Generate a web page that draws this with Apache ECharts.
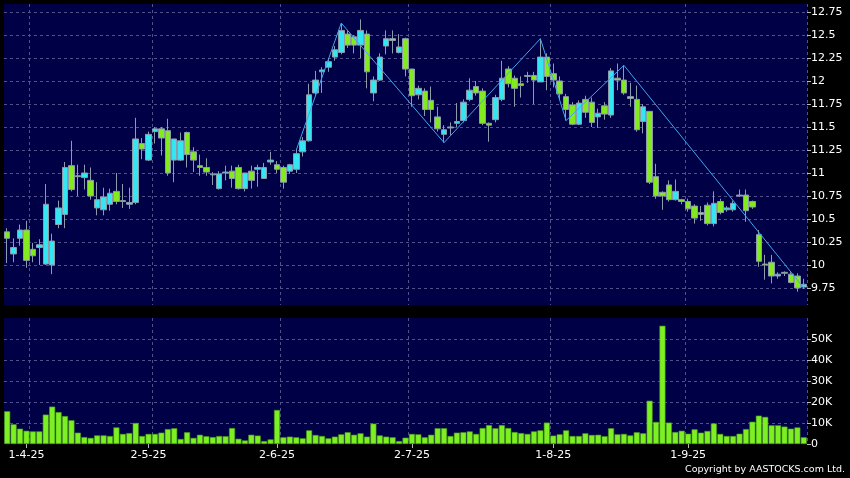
<!DOCTYPE html>
<html>
<head>
<meta charset="utf-8">
<script src="https://cdn.jsdelivr.net/npm/echarts@6/dist/echarts.min.js"></script>
<style>
html, body { margin: 0; padding: 0; background: #000; }
#chart { width: 850px; height: 478px; }
</style>
</head>
<body>
<div id="chart"></div>
<script>
// trading days, d-m-yy
var dates = [
  '27-3-25','28-3-25','31-3-25',
  '1-4-25','2-4-25','3-4-25','7-4-25','8-4-25','9-4-25','10-4-25','11-4-25','14-4-25','15-4-25','16-4-25','17-4-25',
  '22-4-25','23-4-25','24-4-25','25-4-25','28-4-25','29-4-25','30-4-25',
  '2-5-25','6-5-25','7-5-25','8-5-25','9-5-25','12-5-25','13-5-25','14-5-25','15-5-25','16-5-25','19-5-25','20-5-25',
  '21-5-25','22-5-25','23-5-25','26-5-25','27-5-25','28-5-25','29-5-25','30-5-25',
  '2-6-25','3-6-25','4-6-25','5-6-25','6-6-25','9-6-25','10-6-25','11-6-25','12-6-25','13-6-25','16-6-25','17-6-25',
  '18-6-25','19-6-25','20-6-25','23-6-25','24-6-25','25-6-25','26-6-25','27-6-25','30-6-25',
  '2-7-25','3-7-25','4-7-25','7-7-25','8-7-25','9-7-25','10-7-25','11-7-25','14-7-25','15-7-25','16-7-25','17-7-25',
  '18-7-25','21-7-25','22-7-25','23-7-25','24-7-25','25-7-25','28-7-25','29-7-25','30-7-25','31-7-25',
  '1-8-25','4-8-25','5-8-25','6-8-25','7-8-25','8-8-25','11-8-25','12-8-25','13-8-25','14-8-25','15-8-25','18-8-25',
  '19-8-25','20-8-25','21-8-25','22-8-25','25-8-25','26-8-25','27-8-25','28-8-25','29-8-25',
  '1-9-25','2-9-25','3-9-25','4-9-25','5-9-25','8-9-25','9-9-25','10-9-25','11-9-25','12-9-25','15-9-25','16-9-25',
  '17-9-25','18-9-25','19-9-25','22-9-25','23-9-25','24-9-25','25-9-25'
];

var opens = [
  10.36,10.12,10.29,10.38,10.17,10.19,10.01,10.00,10.44,10.55,11.08,10.97,10.95,10.92,10.62,10.60,10.66,10.80,10.70,10.66,
  10.68,11.32,11.14,11.45,11.48,11.46,11.14,11.14,11.44,11.23,11.08,11.06,10.98,10.83,11.00,11.02,11.06,10.83,11.02,11.04,
  10.94,11.12,11.09,11.06,11.02,11.04,11.23,11.35,11.87,12.10,12.15,12.26,12.31,12.51,12.48,12.39,12.51,11.87,12.01,12.38,
  12.46,12.31,12.46,12.13,11.85,11.89,11.79,11.61,11.42,11.50,11.54,11.57,11.80,11.94,11.89,11.54,11.58,11.80,12.13,12.03,
  11.97,12.06,12.06,11.99,12.26,12.08,12.00,11.83,11.74,11.53,11.80,11.77,11.61,11.73,11.63,12.03,12.01,11.83,11.80,11.56,
  11.67,10.96,10.79,10.87,10.71,10.71,10.69,10.64,10.57,10.65,10.45,10.69,10.60,10.60,10.76,10.76,10.69,10.33,10.01,10.03,
  9.88,9.92,9.90,9.88,9.76
];
var closes = [
  10.29,10.19,10.38,10.05,10.10,10.22,10.66,10.26,10.62,11.06,10.82,10.96,11.00,10.75,10.71,10.74,10.78,10.69,10.69,10.68,
  11.37,11.26,11.42,11.48,11.38,11.00,11.37,11.35,11.20,11.14,11.06,11.01,10.99,10.99,11.01,10.94,10.83,11.00,10.92,11.06,
  11.06,11.14,11.04,10.90,11.09,11.21,11.35,11.85,12.01,12.12,12.21,12.34,12.55,12.39,12.39,12.55,12.10,12.01,12.26,12.46,
  12.44,12.37,12.13,11.84,11.92,11.69,11.69,11.48,11.47,11.49,11.56,11.77,11.90,11.87,11.54,11.52,11.82,12.03,11.97,11.92,
  11.95,12.05,12.01,12.26,12.05,12.01,11.86,11.69,11.53,11.76,11.66,11.55,11.65,11.64,12.11,12.01,11.87,11.81,11.47,11.72,
  10.90,10.75,10.75,10.71,10.80,10.69,10.61,10.51,10.55,10.45,10.67,10.57,10.62,10.67,10.75,10.59,10.63,10.04,10.00,9.88,
  9.90,9.91,9.81,9.75,9.79
];
var lows = [
  10.02,10.03,10.21,9.97,10.03,10.00,10.00,9.90,10.40,10.40,10.80,10.75,10.82,10.71,10.54,10.54,10.59,10.66,10.62,10.61,
  10.66,11.15,11.13,11.32,11.19,10.97,10.90,11.13,11.06,11.01,10.97,10.97,10.87,10.82,10.92,10.84,10.82,10.80,10.83,10.85,
  10.94,11.09,11.00,10.83,10.99,11.00,11.18,11.34,11.85,11.87,12.10,12.22,12.29,12.36,12.30,12.25,11.92,11.78,12.00,12.29,
  12.30,12.30,12.05,11.72,11.80,11.62,11.55,11.45,11.33,11.41,11.50,11.55,11.78,11.84,11.52,11.34,11.55,11.78,11.93,11.72,
  11.82,11.98,11.75,11.99,11.90,11.93,11.80,11.57,11.52,11.52,11.60,11.50,11.49,11.58,11.60,11.90,11.85,11.72,11.45,11.43,
  10.88,10.72,10.60,10.69,10.70,10.66,10.58,10.45,10.48,10.43,10.42,10.55,10.58,10.58,10.74,10.47,10.61,9.98,9.84,9.80,
  9.85,9.88,9.80,9.71,9.74
];
var highs = [
  10.40,10.29,10.44,10.48,10.24,10.28,10.88,10.34,10.70,11.12,11.35,11.09,11.09,11.06,10.90,10.84,10.83,11.00,10.88,10.84,
  11.60,11.38,11.45,11.50,11.50,11.59,11.37,11.44,11.45,11.28,11.20,11.16,11.01,11.02,11.08,11.08,11.09,11.00,11.08,11.09,
  11.11,11.23,11.13,11.08,11.10,11.26,11.39,11.97,12.11,12.15,12.25,12.38,12.63,12.55,12.50,12.67,12.55,12.05,12.30,12.55,
  12.55,12.51,12.47,12.13,11.95,11.92,11.94,11.72,11.52,11.55,11.76,11.80,12.03,12.00,11.92,11.55,11.85,12.22,12.16,12.06,
  12.05,12.10,12.10,12.46,12.30,12.19,12.05,11.86,11.77,11.79,11.84,11.82,11.70,11.77,12.14,12.19,12.17,11.98,11.95,11.75,
  11.67,11.10,10.80,10.92,10.93,10.72,10.72,10.66,10.64,10.68,10.80,10.72,10.64,10.70,10.82,10.82,10.70,10.38,10.11,10.11,
  9.92,9.93,9.92,9.91,9.85
];
// volume in thousands of shares
var volumes = [
  15.6,9.4,7.3,6.3,6.0,6.0,14.0,17.8,15.2,13.3,11.3,5.4,3.3,2.9,4.1,4.1,3.8,7.9,4.8,5.2,
  10.0,3.8,4.8,4.8,5.4,7.1,7.5,2.4,5.6,2.9,4.4,3.7,3.3,3.8,3.7,7.6,2.5,1.7,4.4,4.0,
  1.4,2.2,16.2,3.2,3.5,3.2,2.7,6.5,4.3,3.8,2.7,3.5,4.6,5.6,4.4,5.1,3.5,9.7,4.1,3.5,
  3.2,1.4,3.0,4.8,4.6,3.2,4.4,7.5,7.5,3.8,5.4,5.6,6.0,4.8,7.6,9.0,7.5,9.0,7.6,5.7,
  5.2,4.8,6.0,6.5,10.2,4.0,4.6,6.5,3.8,3.8,5.1,4.3,4.4,3.7,7.5,4.6,4.8,4.1,5.6,5.1,
  20.6,10.5,56.3,10.2,5.7,6.3,4.9,7.0,5.4,6.2,9.8,4.8,3.8,3.8,4.9,7.1,10.6,13.5,12.9,8.9,
  8.9,8.3,7.3,7.9,3.2
];
// trend line turning points
var zigIdx = [45, 52, 68, 83, 87, 96, 124];
var zigVal = [11.25, 12.63, 11.33, 12.46, 11.57, 12.17, 9.75];

var monthLabels = ['1-4-25','2-5-25','2-6-25','2-7-25','1-8-25','1-9-25'];
var gridLineIdx = [4, 23, 43, 63, 85, 106];
var priceTicks = [9.75,10,10.25,10.5,10.75,11,11.25,11.5,11.75,12,12.25,12.5,12.75];
var volMax = 60000, volStep = 10000;

var candleData = dates.map(function (d, i) {
    return [opens[i], closes[i], lows[i], highs[i]];
});
var zigData = dates.map(function () { return null; });
zigIdx.forEach(function (k, j) { zigData[k] = zigVal[j]; });
var volData = volumes.map(function (v) { return Math.round(v * 1000); });

function isLabel(idx) { return monthLabels.indexOf(dates[idx]) >= 0; }
function isGridLine(idx) { return gridLineIdx.indexOf(idx) >= 0; }

var gridLine = { color: '#50508a', type: [3, 3], width: 1 };
var font = 'DejaVu Sans';

var myChart = echarts.init(document.getElementById('chart'));
var option = {
    backgroundColor: '#000000',
    animation: false,
    grid: [
        { left: 4, right: 43, top: 4, height: 301, show: true, backgroundColor: '#000046', borderWidth: 0 },
        { left: 4, right: 43, top: 318, height: 126, show: true, backgroundColor: '#000046', borderWidth: 0 }
    ],
    xAxis: [
        {
            type: 'category', gridIndex: 0, data: dates, boundaryGap: true,
            axisLine: { show: false }, axisTick: { show: false }, axisLabel: { show: false },
            splitLine: { show: true, interval: function (i) { return isGridLine(i); }, lineStyle: gridLine }
        },
        {
            type: 'category', gridIndex: 1, data: dates, boundaryGap: true, offset: 2,
            axisLine: { show: false },
            axisTick: { show: true, alignWithLabel: true, length: 4, interval: function (i) { return isLabel(i); },
                lineStyle: { color: '#bbbbbb' } },
            axisLabel: { interval: function (i) { return isLabel(i); }, color: '#ffffff', fontFamily: font,
                fontSize: 11, margin: 4 },
            splitLine: { show: true, interval: function (i) { return isGridLine(i); }, lineStyle: gridLine }
        }
    ],
    yAxis: [
        {
            type: 'value', gridIndex: 0, position: 'right', scale: true,
            min: 9.565, max: 12.837,
            axisLine: { show: false },
            axisTick: { show: true, length: 4, customValues: priceTicks, lineStyle: { color: '#bbbbbb' } },
            axisLabel: { customValues: priceTicks, color: '#ffffff', fontFamily: font, fontSize: 11, margin: 4,
                formatter: function (v) { return String(v); } },
            splitLine: { show: true, lineStyle: gridLine }
        },
        {
            type: 'value', gridIndex: 1, position: 'right', min: 0, max: volMax, interval: volStep,
            axisLine: { show: false },
            axisTick: { show: true, length: 4, lineStyle: { color: '#bbbbbb' } },
            axisLabel: { color: '#ffffff', fontFamily: font, fontSize: 11, margin: 4, showMaxLabel: false,
                formatter: function (v) { return v === 0 ? '0' : (v / 1000) + 'K'; } },
            splitLine: { show: true, showMinLine: false, showMaxLine: false, lineStyle: gridLine }
        }
    ],
    series: [
        {
            type: 'candlestick', xAxisIndex: 0, yAxisIndex: 0, data: candleData, barWidth: 6,
            barMaxWidth: 6, barMinWidth: 6,
            itemStyle: {
                color: '#33e6f2', color0: '#84ea20',
                borderColor: '#8c9cab', borderColor0: '#8c9cab', borderWidth: 1
            }
        },
        {
            type: 'line', xAxisIndex: 0, yAxisIndex: 0, data: zigData, connectNulls: true,
            symbol: 'none', z: 5, lineStyle: { color: '#40a6ee', width: 1 }
        },
        {
            type: 'bar', xAxisIndex: 1, yAxisIndex: 1, data: volData, barWidth: 6,
            itemStyle: { color: '#7cf022', borderColor: '#4e9a1a', borderWidth: 0.6 }
        }
    ],
    graphic: [
        {
            type: 'text', right: 5, top: 465,
            style: { text: 'Copyright by AASTOCKS.com Ltd.', fill: '#ffffff', font: '9.5px "DejaVu Sans"' }
        }
    ]
};
myChart.setOption(option);
</script>
</body>
</html>
